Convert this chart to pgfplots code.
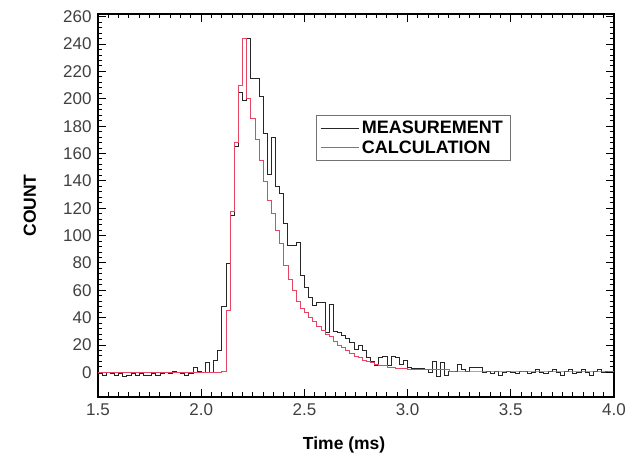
\documentclass[border=0pt]{standalone}
\usepackage{pgfplots}
\usepackage{pgfplotstable}
\usepackage{fontspec}
\setmainfont{Liberation Sans}
\pgfplotsset{compat=1.18}
\definecolor{calcred}{RGB}{230,70,100}
\pgfplotstableread{
t meas calc
1.50 -1 0
1.52 -2 0
1.54 0 0
1.56 -1 0
1.58 -2 0
1.60 -1 0
1.62 -3 0
1.64 -2 0
1.66 -1 0
1.68 -2 0
1.70 -1 0
1.72 -2 0
1.74 -2 0
1.76 -1 0
1.78 -2 0
1.80 -1 0
1.82 0 0
1.84 -1 0
1.86 1 0
1.88 0 0
1.90 -1 0
1.92 -2 0
1.94 -1 0
1.96 4 0
1.98 1 0
2.00 0 0
2.02 7 0
2.04 0 0
2.06 9 0
2.08 16 0
2.10 48 1
2.12 80 45
2.14 115 118
2.16 165 168
2.18 205 210
2.20 199 244
2.22 244 200
2.24 215 186
2.26 215 170
2.28 202 155
2.30 175 140
2.32 145 126
2.34 172 116
2.36 136 104
2.38 131 94
2.40 109 78
2.42 93 68
2.44 93 60
2.46 95 52
2.48 71 47
2.50 62 44
2.52 55 40
2.54 49 37
2.56 51 34
2.58 51 31
2.60 29 28
2.62 50 26
2.64 30 23
2.66 29 20
2.68 27 18
2.70 25 16
2.72 22 14
2.74 17 12
2.76 20 11
2.78 16 9
2.80 11 8
2.82 8 7
2.84 5 6
2.86 11 5
2.88 12 5
2.90 5 4
2.92 12 4
2.94 11 3
2.96 6 3
2.98 9 3
3.00 4 2
3.02 3 2
3.04 3 2
3.06 3 2
3.08 2 2
3.10 0 2
3.12 8 2
3.14 -3 2
3.16 7 2
3.18 -2 2
3.20 1 1
3.22 1 1
3.24 6 1
3.26 2 1
3.28 1 1
3.30 4 1
3.32 4 1
3.34 4 1
3.36 0 1
3.38 1 1
3.40 -1 1
3.42 1 1
3.44 -2 1
3.46 0 1
3.48 1 1
3.50 0 1
3.52 -1 1
3.54 1 1
3.56 1 1
3.58 -1 1
3.60 0 1
3.62 2 1
3.64 0 1
3.66 -1 1
3.68 1 1
3.70 2 1
3.72 0 1
3.74 -2 1
3.76 1 1
3.78 2 1
3.80 -1 1
3.82 0 1
3.84 2 1
3.86 0 1
3.88 -2 1
3.90 1 1
3.92 2 1
3.94 0 1
3.96 1 1
3.98 1 1
4.00 1 1
}\datatable
\begin{document}
\begin{tikzpicture}
\begin{axis}[
  scale only axis,
  width=516pt, height=383pt,
  xmin=1.5, xmax=4.0, ymin=-18, ymax=262,
  xtick={1.5,2,2.5,3,3.5,4},
  ytick={0,20,40,60,80,100,120,140,160,180,200,220,240,260},
  minor x tick num=9,
  minor y tick num=4,
  tick align=inside,
  major tick length=8pt,
  minor tick length=4.5pt,
  every tick/.append style={draw=black, line width=1pt},
  axis line style={line width=1.5pt},
  /pgf/number format/assume math mode=true,
  tick label style={font=\fontsize{17}{20}\selectfont, text=black!75},
  xticklabel style={/pgf/number format/fixed, /pgf/number format/fixed zerofill, /pgf/number format/precision=1, yshift=-3pt},
  yticklabel style={xshift=-3pt},
  xlabel={Time (ms)},
  ylabel={COUNT},
  label style={font=\fontsize{17.5}{20}\selectfont\bfseries},
  xlabel style={at={(axis description cs:0.477,0)}, anchor=center, yshift=-48pt},
  ylabel style={at={(axis description cs:-0.132,0.5)}, anchor=center},
  legend style={at={(axis description cs:0.4225,0.736)}, anchor=north west,
    draw=black!55, line width=0.6pt, inner xsep=4pt, inner ysep=4pt,
    font=\fontsize{18}{21}\selectfont\bfseries, row sep=1pt,
    nodes={inner xsep=3pt}},
  legend cell align=left,
  legend image code/.code={\draw[#1, line width=0.6pt] (0pt,0pt) -- (38pt,0pt);},
]
\addplot[const plot, black!85, line width=0.8pt] table[x=t, y=meas] {\datatable};
\addlegendentry{MEASUREMENT}
\addplot[const plot, calcred, line width=0.7pt] table[x=t, y=calc] {\datatable};
\addlegendentry{CALCULATION}
\end{axis}
\path (-98pt,-63pt) rectangle (532pt,397pt);
\end{tikzpicture}
\end{document}
